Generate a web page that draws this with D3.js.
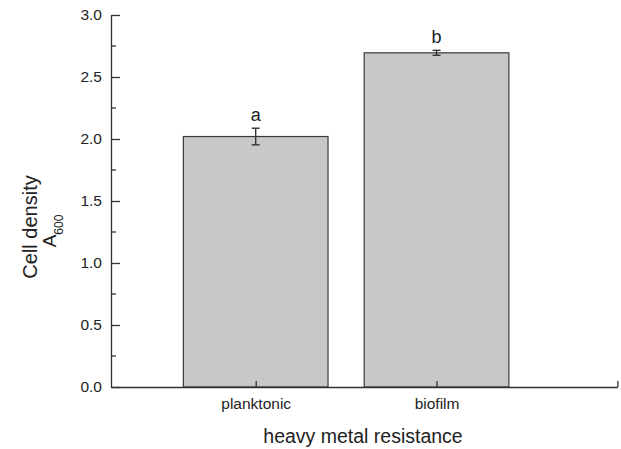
<!DOCTYPE html>
<html>
<head>
<meta charset="utf-8">
<script src="https://cdn.jsdelivr.net/npm/d3@7"></script>
<style>
  html, body { margin: 0; padding: 0; background: #fff; }
  svg { display: block; font-family: "Liberation Sans", Arial, sans-serif; }
</style>
</head>
<body>
<svg id="chart" width="621" height="449"></svg>
<script>
// Cell density (A600) by growth mode
const categories = ["planktonic", "biofilm"];
const means = [2.02, 2.695];
const errors = [0.067, 0.02];
const letters = ["a", "b"];
const yTicks = [0.0, 0.5, 1.0, 1.5, 2.0, 2.5, 3.0];

const svg = d3.select("#chart");
const axisColor = "#333";
const textColor = "#222";

const x = d3.scaleLinear().domain([0.2, 3]).range([111, 617.4]);
const y = d3.scaleLinear().domain([0, 3]).range([387, 15]);
const barW = 0.8;

// bars
const g = svg.append("g");
g.selectAll("rect.bar").data(categories).join("rect")
  .attr("class", "bar")
  .attr("x", (d, i) => x(i + 1 - barW / 2))
  .attr("width", x(barW) - x(0))
  .attr("y", (d, i) => y(means[i]))
  .attr("height", (d, i) => y(0) - y(means[i]))
  .attr("fill", "#c8c8c8")
  .attr("stroke", "#3a3a3a")
  .attr("stroke-width", 1.2);

// error bars with significance letters
const capHalf = 4;
categories.forEach((c, i) => {
  const cx = x(i + 1);
  const top = y(means[i] + errors[i]);
  const bot = y(means[i] - errors[i]);
  const eb = g.append("g").attr("stroke", "#333").attr("stroke-width", 1.4);
  eb.append("line").attr("x1", cx).attr("x2", cx).attr("y1", top).attr("y2", bot);
  eb.append("line").attr("x1", cx - capHalf).attr("x2", cx + capHalf).attr("y1", top).attr("y2", top);
  eb.append("line").attr("x1", cx - capHalf).attr("x2", cx + capHalf).attr("y1", bot).attr("y2", bot);
  g.append("text")
    .attr("x", cx)
    .attr("y", top - 7)
    .attr("text-anchor", "middle")
    .attr("font-size", 18)
    .attr("fill", textColor)
    .text(letters[i]);
});

// y axis: major ticks inward, minor ticks between
const yAxis = d3.axisLeft(y)
  .tickValues(yTicks)
  .tickFormat(d3.format(".1f"))
  .tickSizeInner(-9)
  .tickSizeOuter(0)
  .tickPadding(9);
const gy = svg.append("g").attr("transform", "translate(111,0)").call(yAxis);
gy.select(".domain").attr("stroke", axisColor).attr("stroke-width", 1.3);
gy.selectAll(".tick line").attr("stroke", axisColor).attr("stroke-width", 1.3);
gy.selectAll(".tick text").attr("font-size", 15.5).attr("fill", textColor)
  .attr("font-family", "Liberation Sans, Arial, sans-serif");
const minor = d3.range(0.25, 3, 0.5);
gy.selectAll("line.minor").data(minor).join("line")
  .attr("class", "minor")
  .attr("x1", 0).attr("x2", 5)
  .attr("y1", d => y(d)).attr("y2", d => y(d))
  .attr("stroke", axisColor).attr("stroke-width", 1.3);

// x axis: ticks at categories and axis end, pointing inward
const xAxis = d3.axisBottom(x)
  .tickValues([1, 2, 3])
  .tickFormat(d => categories[d - 1] || "")
  .tickSizeInner(-6)
  .tickSizeOuter(0)
  .tickPadding(11);
const gx = svg.append("g").attr("transform", `translate(0,${y(0)})`).call(xAxis);
gx.select(".domain").attr("stroke", axisColor).attr("stroke-width", 1.3);
gx.selectAll(".tick line").attr("stroke", axisColor).attr("stroke-width", 1.3);
gx.selectAll(".tick text").attr("font-size", 15.5).attr("fill", textColor)
  .attr("font-family", "Liberation Sans, Arial, sans-serif");

// axis titles
svg.append("text")
  .attr("x", 363).attr("y", 443)
  .attr("text-anchor", "middle")
  .attr("font-size", 19.5)
  .attr("fill", textColor)
  .text("heavy metal resistance");

svg.append("text")
  .attr("transform", "translate(37,227) rotate(-90)")
  .attr("text-anchor", "middle")
  .attr("font-size", 20)
  .attr("fill", textColor)
  .text("Cell density");

const aLabel = svg.append("text")
  .attr("transform", "translate(56,231) rotate(-90)")
  .attr("text-anchor", "middle")
  .attr("font-size", 19)
  .attr("fill", textColor);
aLabel.append("tspan").text("A");
aLabel.append("tspan").attr("font-size", 12).attr("dy", 7).text("600");
</script>
</body>
</html>
